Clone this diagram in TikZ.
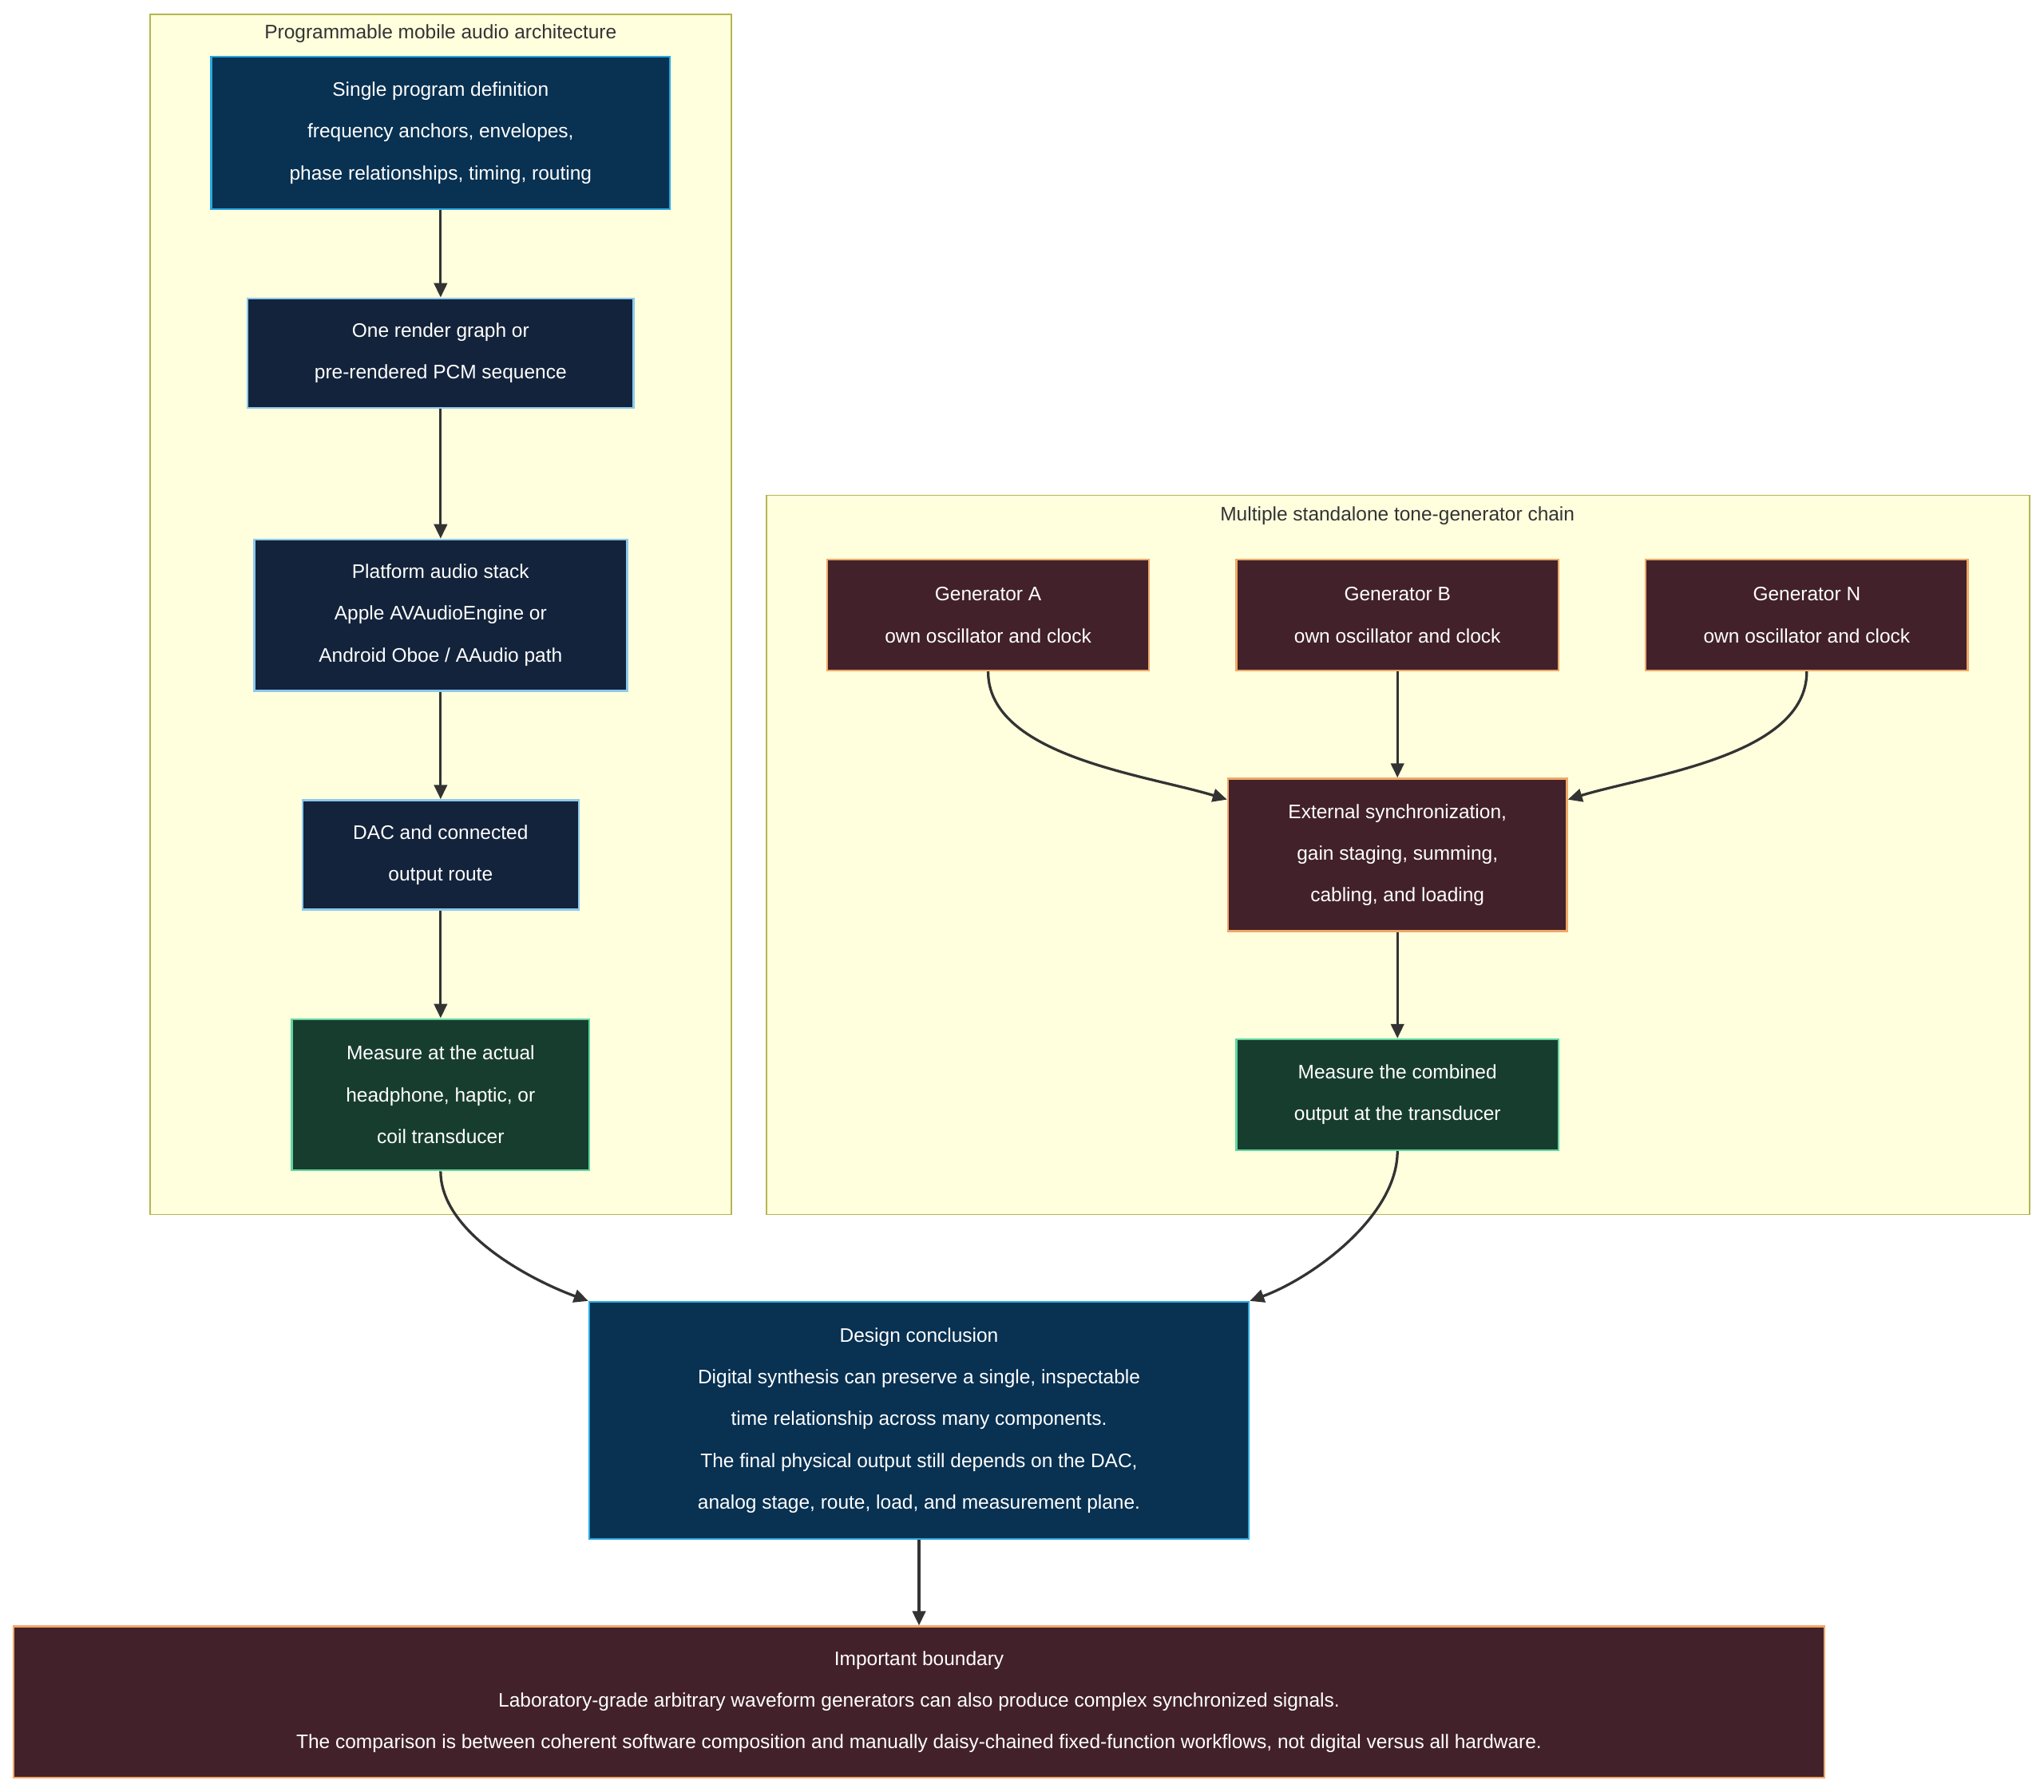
\documentclass[tikz,border=0pt]{standalone}
\usepackage{fontspec}
\setmainfont{Liberation Sans}
\usetikzlibrary{arrows.meta}
\definecolor{clfill}{HTML}{FFFFDE}
\definecolor{cldraw}{HTML}{B5B552}
\definecolor{bluef}{HTML}{083152}
\definecolor{blued}{HTML}{29A8E0}
\definecolor{navyf}{HTML}{13233B}
\definecolor{navyd}{HTML}{8CC8EE}
\definecolor{greenf}{HTML}{173D2F}
\definecolor{greend}{HTML}{5FD69E}
\definecolor{marf}{HTML}{42212A}
\definecolor{mard}{HTML}{F0A868}
\definecolor{edgec}{HTML}{333333}
\begin{document}
\begin{tikzpicture}[x=1pt,y=-1pt,
 box/.style={rectangle,line width=1.5pt,text=white,align=center,inner sep=0pt,
   font=\fontsize{15}{32}\selectfont},
 prog/.style={box,fill=bluef,draw=blued},
 navy/.style={box,fill=navyf,draw=navyd},
 meas/.style={box,fill=greenf,draw=greend},
 mar/.style={box,fill=marf,draw=mard},
 cl/.style={fill=clfill,draw=cldraw,line width=1pt},
 ttl/.style={font=\fontsize{15}{18}\selectfont,text=edgec},
 e/.style={draw=edgec,line width=2pt,-{Triangle[length=11pt,width=10pt]}}]
\useasboundingbox (0,0) rectangle (1568,1375);
\fill[white] (0,0) rectangle (1568,1375);
\draw[cl] (115,11) rectangle (561,932);
\node[ttl] (t1) at (338,26) {Programmable mobile audio architecture};
\draw[cl] (588,380) rectangle (1557,932);
\node[ttl] (t2) at (1072,396) {Multiple standalone tone-generator chain};

\node[prog,minimum width=352pt,minimum height=117pt] (n1) at (338,102) {Single program definition\\frequency anchors, envelopes,\\phase relationships, timing, routing};
\node[navy,minimum width=296pt,minimum height=84pt] (n2) at (338,271) {One render graph or\\pre-rendered PCM sequence};
\node[navy,minimum width=286pt,minimum height=116pt] (n3) at (338,472) {Platform audio stack\\Apple AVAudioEngine or\\Android Oboe / AAudio path};
\node[navy,minimum width=212pt,minimum height=84pt] (n4) at (338,656) {DAC and connected\\output route};
\node[meas,minimum width=228pt,minimum height=116pt] (n5) at (338,840) {Measure at the actual\\headphone, haptic, or\\coil transducer};

\node[mar,minimum width=247pt,minimum height=85pt] (ga) at (758,472) {Generator A\\own oscillator and clock};
\node[mar,minimum width=247pt,minimum height=85pt] (gb) at (1072,472) {Generator B\\own oscillator and clock};
\node[mar,minimum width=247pt,minimum height=85pt] (gn) at (1386,472) {Generator N\\own oscillator and clock};
\node[mar,minimum width=260pt,minimum height=117pt] (ex) at (1072,656) {External synchronization,\\gain staging, summing,\\cabling, and loading};
\node[meas,minimum width=247pt,minimum height=85pt] (m2) at (1072,840) {Measure the combined\\output at the transducer};

\node[prog,minimum width=506pt,minimum height=182pt] (dc) at (705,1090) {Design conclusion\\Digital synthesis can preserve a single, inspectable\\time relationship across many components.\\The final physical output still depends on the DAC,\\analog stage, route, load, and measurement plane.};
\node[mar,minimum width=1389pt,minimum height=116pt] (ib) at (705,1306) {Important boundary\\Laboratory-grade arbitrary waveform generators can also produce complex synchronized signals.\\The comparison is between coherent software composition and manually daisy-chained fixed-function workflows, not digital versus all hardware.};

\draw[e] (n1) -- (n2);
\draw[e] (n2) -- (n3);
\draw[e] (n3) -- (n4);
\draw[e] (n4) -- (n5);
\draw[e] (ga.south) to[out=-90,in=163,looseness=0.8] (ex.162);
\draw[e] (gb) -- (ex);
\draw[e] (gn.south) to[out=-90,in=17,looseness=0.8] (ex.18);
\draw[e] (ex) -- (m2);
\draw[e] (n5.south) to[out=-90,in=160,looseness=0.8] (dc.north west);
\draw[e] (m2.south) to[out=-90,in=20,looseness=0.8] (dc.north east);
\draw[e] (dc) -- (ib);
\end{tikzpicture}
\end{document}
